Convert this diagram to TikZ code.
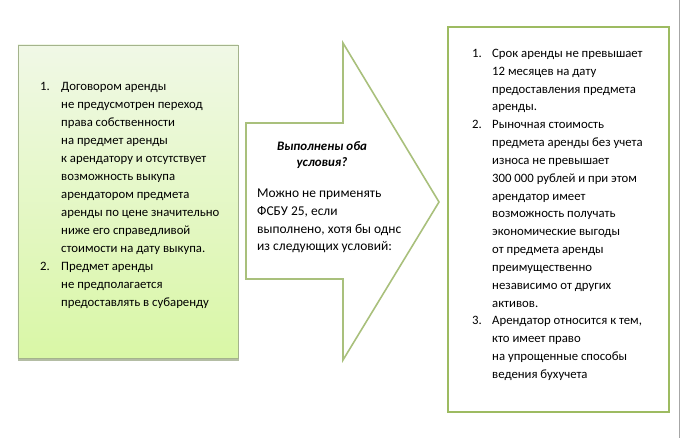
\documentclass[tikz,border=0pt]{standalone}
\usepackage{fontspec}
\setmainfont{Carlito}
\usetikzlibrary{positioning,shadows}
\definecolor{leftline}{HTML}{A4B38C}
\definecolor{lefttop}{HTML}{F0F8E6}
\definecolor{leftbottom}{HTML}{D9F7A6}
\definecolor{arrowline}{HTML}{A9C07C}
\definecolor{rightline}{HTML}{9DBB61}
\definecolor{pageline}{HTML}{A6A6A6}
\newcommand{\txtsize}[2]{\fontsize{#1}{#2}\selectfont}

\begin{document}
\begin{tikzpicture}[x=1bp, y=-1bp,
  greenbox/.style={draw=leftline, line width=0.8bp, top color=lefttop, bottom color=leftbottom,
    drop shadow={shadow xshift=0.5bp, shadow yshift=-2.5bp, fill=leftline!90!black, opacity=0.7}},
  whitebox/.style={draw=rightline, line width=2.2bp, fill=white},
  liste/.style={anchor=north west, inner sep=0pt, align=left}]
  \useasboundingbox (0,0) rectangle (681,438);
  \draw[pageline, line width=0.8bp] (679.5,0) -- (679.5,438);

  % left box
  \node[greenbox, minimum width=220bp, minimum height=313bp, inner sep=0pt] (bed) at (128,201.5) {};
  \node[liste] (bedtext) at (40,78.2) {\txtsize{12.8}{18}%
    \begin{tabular}{@{}p{21bp}@{}l@{}}
      1. & Договором аренды\\
         & не предусмотрен переход\\
         & права собственности\\
         & на предмет аренды\\
         & к арендатору и отсутствует\\
         & возможность выкупа\\
         & арендатором предмета\\
         & аренды по цене значительно\\
         & ниже его справедливой\\
         & стоимости на дату выкупа.\\
      2. & Предмет аренды\\
         & не предполагается\\
         & предоставлять в субаренду
    \end{tabular}};

  % arrow
  \draw[arrowline, line width=1.6bp, line join=miter, fill=white]
    (246,123) -- (343,123) -- (343,43) -- (439,202) -- (343,360) -- (343,279) -- (246,279) -- cycle;
  \node[inner sep=0pt, align=center, font=\bfseries\itshape\fontsize{13}{16.5}\selectfont] (frage) at (322,155)
    {Выполнены оба\\условия?};
  \node[liste] (hinweis) at (257,185) {\txtsize{13.5}{17.8}%
    \begin{tabular}{@{}l@{}}
      Можно не применять\\
      ФСБУ 25, если\\
      выполнено, хотя бы однс\\
      из следующих условий:
    \end{tabular}};

  % right box
  \node[whitebox, minimum width=221bp, minimum height=385bp, inner sep=0pt] (ausnahme) at (558.5,219.5) {};
  \node[liste] (ausnahmetext) at (472,44.7) {\txtsize{12.8}{17.9}%
    \begin{tabular}{@{}p{20bp}@{}l@{}}
      1. & Срок аренды не превышает\\
         & 12 месяцев на дату\\
         & предоставления предмета\\
         & аренды.\\
      2. & Рыночная стоимость\\
         & предмета аренды без учета\\
         & износа не превышает\\
         & 300 000 рублей и при этом\\
         & арендатор имеет\\
         & возможность получать\\
         & экономические выгоды\\
         & от предмета аренды\\
         & преимущественно\\
         & независимо от других\\
         & активов.\\
      3. & Арендатор относится к тем,\\
         & кто имеет право\\
         & на упрощенные способы\\
         & ведения бухучета
    \end{tabular}};
\end{tikzpicture}
\end{document}
